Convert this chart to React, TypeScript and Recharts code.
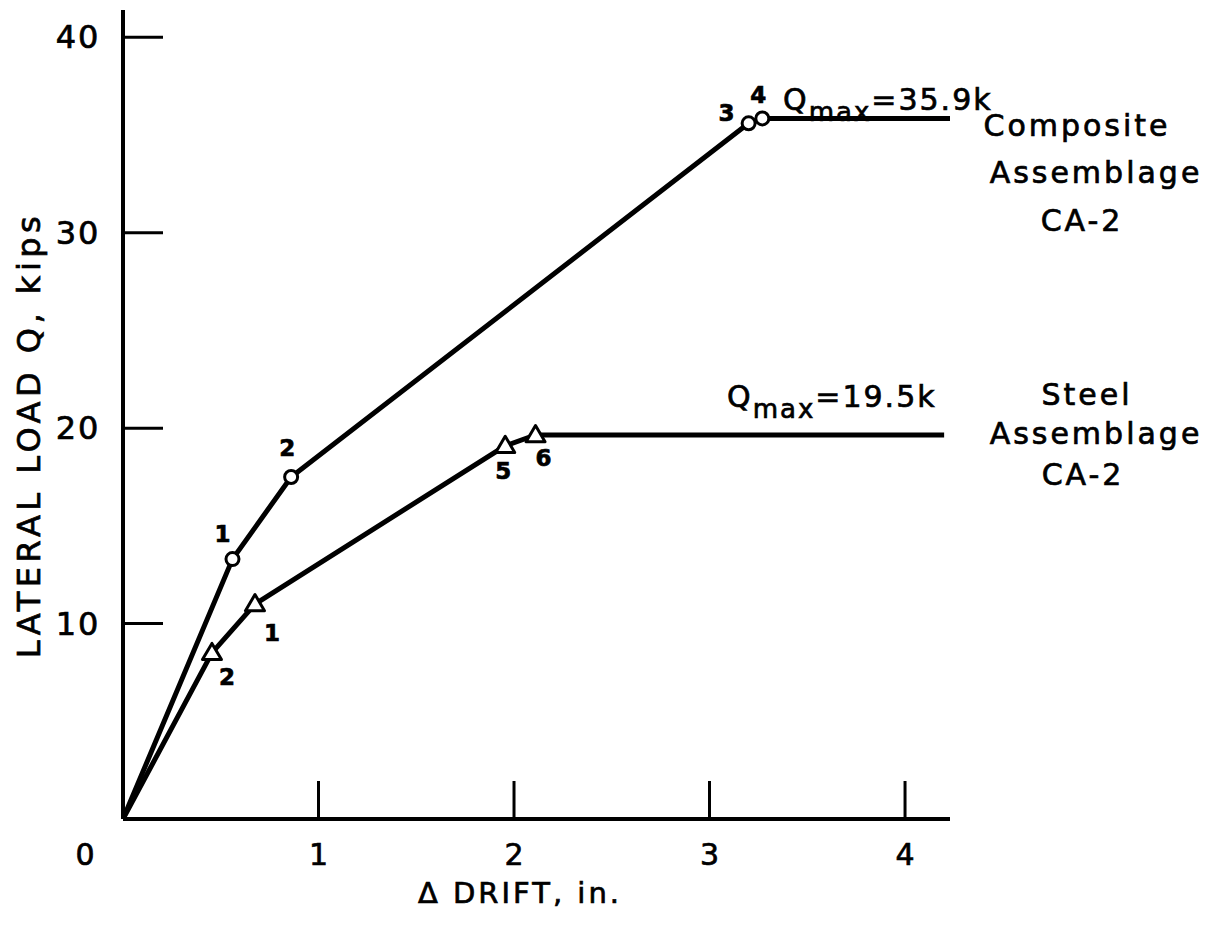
import React from 'react'
import { LineChart, Line, XAxis, YAxis, Customized } from 'recharts'

// Composite assemblage CA-2: drift (in.) vs lateral load (kips)
const CA_X = [0, 0.56, 0.86, 3.2, 3.27, 4.23]
const CA_Q = [0, 13.3, 17.5, 35.6, 35.85, 35.85]
const CA_PT = ['', '1', '2', '3', '4', '']

// Steel assemblage CA-2
const SA_X = [0, 0.455, 0.675, 1.955, 2.11, 4.2]
const SA_Q = [0, 8.5, 11.0, 19.1, 19.65, 19.65]
const SA_PT = ['', '2', '1', '5', '6', '']

const X_TICKS = [0, 1, 2, 3, 4]
const Y_TICKS = [10, 20, 30, 40]

// label offsets from each marker (px)
const CA_OFF = [[0, 0], [-10, -25], [-4, -29], [-22, -10], [-4, -23], [0, 0]]
const SA_OFF = [[0, 0], [15, 24], [17, 29], [-2, 25], [8, 23], [0, 0]]

const W = 1218
const H = 928
const Y_W = 60
const X_H = 60
const M = { top: 10, right: 268, bottom: 109 - X_H, left: 123 - Y_W }
const PLOT_L = 123
const AXIS_Y = 819
const FONT = '"DejaVu Sans", Verdana, sans-serif'

const caData = CA_X.map((x, i) => ({ x, y: CA_Q[i], pt: CA_PT[i], off: CA_OFF[i] }))
const saData = SA_X.map((x, i) => ({ x, y: SA_Q[i], pt: SA_PT[i], off: SA_OFF[i] }))

const txt = { fontFamily: FONT, fill: '#000', stroke: '#000', strokeWidth: 0.7 }

const pointLabel = (cx: number, cy: number, p: any) => (
  <text
    x={cx + p.off[0]}
    y={cy + p.off[1]}
    textAnchor="middle"
    dominantBaseline="central"
    fontSize={23}
    fontWeight="bold"
    {...txt}
  >
    {p.pt}
  </text>
)

const CircleDot = (props: any) => {
  const { cx, cy, payload, index } = props
  if (!payload.pt) return <g key={`c${index}`} />
  return (
    <g key={`c${index}`}>
      <circle cx={cx} cy={cy} r={6.5} fill="#fff" stroke="#000" strokeWidth={3} />
      {pointLabel(cx, cy, payload)}
    </g>
  )
}

const TriDot = (props: any) => {
  const { cx, cy, payload, index } = props
  if (!payload.pt) return <g key={`t${index}`} />
  const s = 9.5
  const pts = `${cx},${cy - s} ${cx - s},${cy + s * 0.7} ${cx + s},${cy + s * 0.7}`
  return (
    <g key={`t${index}`}>
      <polygon points={pts} fill="#fff" stroke="#000" strokeWidth={3} strokeLinejoin="round" />
      {pointLabel(cx, cy, payload)}
    </g>
  )
}

const XTick = (props: any) => {
  const { payload } = props
  const x = payload.coordinate
  const v = payload.value
  return (
    <g>
      {v !== 0 && <line x1={x} x2={x} y1={AXIS_Y} y2={AXIS_Y - 38} stroke="#000" strokeWidth={3} />}
      <text
        x={v === 0 ? 85 : x}
        y={854}
        textAnchor="middle"
        dominantBaseline="central"
        fontSize={30}
        {...txt}
      >
        {v}
      </text>
    </g>
  )
}

const YTick = (props: any) => {
  const { payload } = props
  const y = payload.coordinate
  return (
    <g>
      <line x1={PLOT_L} x2={PLOT_L + 40} y1={y} y2={y} stroke="#000" strokeWidth={3} />
      <text
        x={78}
        y={y}
        textAnchor="middle"
        dominantBaseline="central"
        fontSize={32}
        letterSpacing={2}
        {...txt}
      >
        {payload.value}
      </text>
    </g>
  )
}

const Notes = () => (
  <g>
    <text x={783} y={110} fontSize={30} letterSpacing={2} {...txt}>
      Q<tspan fontSize={26} dy={11}>max</tspan>
      <tspan dy={-11}>=35.9k</tspan>
    </text>
    <text x={727} y={407} fontSize={30} letterSpacing={2} {...txt}>
      Q<tspan fontSize={26} dy={11}>max</tspan>
      <tspan dy={-11}>=19.5k</tspan>
    </text>

    <g fontSize={30} letterSpacing={3} textAnchor="middle" dominantBaseline="central">
      <text x={1077} y={125} {...txt}>Composite</text>
      <text x={1096} y={172} {...txt}>Assemblage</text>
      <text x={1082} y={220} {...txt}>CA-2</text>
      <text x={1087} y={394} {...txt}>Steel</text>
      <text x={1096} y={433} {...txt}>Assemblage</text>
      <text x={1083} y={474} {...txt}>CA-2</text>
    </g>

    <text
      x={520}
      y={893}
      textAnchor="middle"
      dominantBaseline="central"
      fontSize={29}
      letterSpacing={3}
      {...txt}
    >
      Δ DRIFT, in.
    </text>
    <text
      x={29}
      y={435}
      transform="rotate(-90 29 435)"
      textAnchor="middle"
      dominantBaseline="central"
      fontSize={32}
      letterSpacing={4.5}
      {...txt}
    >
      LATERAL LOAD Q, kips
    </text>
  </g>
)

export default function App() {
  return (
    <div style={{ position: 'absolute', left: 0, top: 0, width: W, height: H, background: '#fff' }}>
      <LineChart width={W} height={H} margin={M}>
        <XAxis
          type="number"
          dataKey="x"
          domain={[0, 4.23]}
          ticks={X_TICKS}
          allowDataOverflow
          height={X_H}
          tickLine={false}
          axisLine={{ stroke: '#000', strokeWidth: 4 }}
          tick={XTick}
          interval={0}
        />
        <YAxis
          type="number"
          domain={[0, 41.4]}
          ticks={Y_TICKS}
          allowDataOverflow
          width={Y_W}
          tickLine={false}
          axisLine={{ stroke: '#000', strokeWidth: 4 }}
          tick={YTick}
          interval={0}
        />
        <Line
          data={caData}
          dataKey="y"
          stroke="#000"
          strokeWidth={5}
          dot={CircleDot}
          activeDot={false}
          isAnimationActive={false}
        />
        <Line
          data={saData}
          dataKey="y"
          stroke="#000"
          strokeWidth={5}
          dot={TriDot}
          activeDot={false}
          isAnimationActive={false}
        />
        <Customized component={Notes} />
      </LineChart>
    </div>
  )
}
